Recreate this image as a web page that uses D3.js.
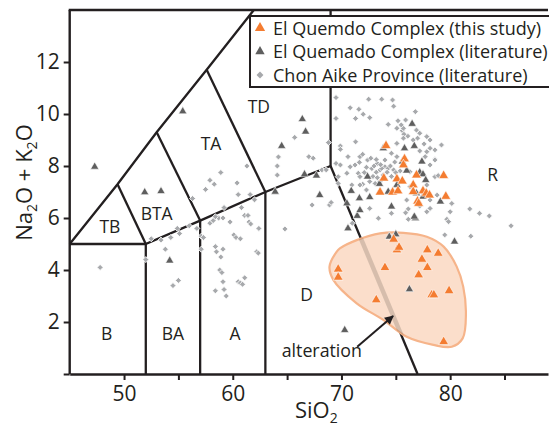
<!DOCTYPE html>
<html>
<head>
<meta charset="utf-8">
<script src="https://cdn.jsdelivr.net/npm/d3@7"></script>
<style>
  body { margin: 0; background: #fff; }
  svg text { font-family: "Open Sans", "Noto Sans", sans-serif; fill: #231f20; }
</style>
</head>
<body>
<svg id="chart" width="549" height="431"></svg>
<script>
// ---- Samples (SiO2 wt%, Na2O + K2O wt%) ----
const thisStudy = [
  [74.1,8.78],[75.8,8.27],[75.7,8.04],[73.9,7.53],[75.1,7.5],[75.6,7.42],[76.9,7.65],[76.6,7.27],[79.4,7.63],
  [73.55,6.99],[74.7,6.99],[75.2,7.04],[76.6,7.01],[77.5,7.04],[77.8,6.95],[78.1,6.88],[79.6,6.83],[77.0,6.65],[77.1,6.56],
  [74.8,5.18],[75.1,4.77],[75.3,4.87],[77.9,4.77],[78.9,4.64],[77.4,4.41],[77.9,4.09],[77.1,3.81],[74.0,4.09],
  [69.7,4.03],[69.7,3.72],[78.3,3.04],[78.5,3.04],[79.9,3.2],[73.2,2.85],[79.4,1.24]
];

const quemadoLiterature = [
  [47.3,7.97],[55.4,10.1],[51.9,6.99],[53.4,7.03],[54.2,4.36],[63.9,7.01],[64.5,8.77],[66.4,9.8],[66.7,9.32],
  [66.6,7.68],[67.7,7.63],[68.0,6.88],[70.9,7.04],[71.65,6.76],[72.6,6.8],[72.4,7.59],[73.5,7.31],[73.85,8.68],
  [74.3,7.01],[74.6,6.44],[71.45,6.08],[71.7,6.3],[70.5,6.56],[70.6,5.6],[74.4,5.28],[75.0,5.37],[76.8,5.99],
  [80.4,5.09],[79.1,6.63],[76.25,3.26],[70.3,1.69],[76.5,9.62],[75.8,8.68],[76.7,8.77],[75.6,8.17],[77.4,8.17],
  [76.0,7.82],[77.2,7.76],[77.5,7.68],[77.75,7.46],[75.1,7.27],[76.9,6.95],[77.5,6.82],[76.7,6.05]
];

const chonAike = [
  [47.8,4.1],[52.0,4.4],[52.5,5.2],[53.4,5.15],[53.8,4.8],[54.3,5.25],[54.9,5.6],[55.1,5.4],[56.0,5.7],[56.7,5.6],
  [57.1,5.3],[57.1,4.8],[54.5,3.4],[55.0,3.6],[57.9,5.8],[58.2,5.9],[58.7,6.0],[59.1,6.0],[59.75,5.85],[58.4,4.9],
  [58.5,4.7],[59.1,4.8],[58.9,4.5],[60.1,5.35],[60.3,5.25],[60.7,5.2],[58.8,4.0],[59.0,3.9],[59.1,3.55],[58.4,3.2],
  [59.2,3.25],[59.4,3.0],[60.5,3.55],[60.7,3.5],[61.1,3.7],[60.9,3.45],[61.1,6.1],[61.4,6.1],[61.5,5.85],[61.65,5.77],
  [62.4,5.6],[62.2,4.7],[62.35,4.65],[58.9,7.75],[57.9,7.45],[58.3,7.3],[57.5,7.1],[60.4,7.35],[60.5,6.9],[61.6,6.9],
  [61.3,8.0],[64.1,8.0],[64.1,7.65],[56.3,6.75],[59.2,6.4],[60.8,6.4],[62.0,6.7],[58.4,6.05],[57.3,5.25],[64.2,8.35],
  [64.8,5.58],[65.7,9.1],[67.0,8.36],[67.4,8.3],[68.8,8.9],[68.2,7.85],[67.3,6.5],[68.9,6.5],[69.05,6.6],
  [69.5,10.63],[72.5,10.57],[73.7,10.57],[70.8,10.24],[71.6,10.18],[72.0,9.99],[71.3,9.83],[72.6,9.86],[69.5,9.83],
  [69.9,8.77],[69.9,8.64],[71.3,8.93],[70.6,8.36],[71.7,8.36],[71.95,8.45],[69.5,8.1],[69.9,8.04],[70.8,7.97],
  [71.25,8.04],[71.65,8.14],[72.4,8.23],[70.5,7.72],[71.55,7.72],[71.7,7.59],[73.2,7.76],[72.6,7.4],[73.1,7.33],
  [73.55,7.85],[74.0,7.97],[73.85,7.65],[74.3,7.91],[71.95,7.3],[69.7,7.59],[69.7,7.33],[70.95,7.27],
  [74.8,10.3],[75.9,9.77],[76.8,10.09],[74.3,9.6],[75.2,9.74],[75.1,9.45],[75.6,9.36],[75.7,9.45],[76.9,9.38],
  [77.2,9.26],[76.1,9.15],[77.85,9.13],[78.15,9.0],[77.6,8.85],[78.6,8.27],[75.1,8.87],[74.7,10.54],[75.5,9.58],
  [75.75,9.22],[77.0,9.07],[76.6,9.0],[75.7,9.07],[79.2,8.81],[78.6,8.62],[78.15,8.68],[77.85,8.55],[77.2,8.58],
  [74.6,8.49],[75.1,8.36],[74.0,8.23],[73.7,7.91],[74.2,7.76],[77.7,8.36],[78.6,8.23],[78.15,8.04],[76.3,7.78],
  [75.4,7.81],[78.6,7.59],[78.9,7.63],[73.55,7.4],[77.85,7.27],[76.3,7.2],[76.0,6.69],[78.15,6.37],[77.85,6.24],
  [80.0,6.24],[81.8,6.35],[82.7,6.18],[76.15,6.35],[83.6,6.08],[85.6,5.7],[81.9,5.3],[79.5,5.35],[79.7,5.95],
  [79.85,5.86],[80.15,6.56],[76.15,5.95],[73.4,5.99],[71.0,5.8],[77.2,6.46],[68.6,7.85],[71.7,7.27],[72.3,7.08],
  [78.15,6.69],[78.8,6.88],[74.6,6.18],[75.9,6.2],[72.6,6.37],[72.8,7.9],[73.0,8.0],[73.3,8.1],[73.6,8.05],
  [74.5,8.0],[74.8,7.85],[72.9,7.6],[73.3,7.55],[74.6,7.6],[75.0,7.75],[72.3,7.95],[72.1,7.75],[74.9,8.15],
  [73.2,8.25],[72.7,8.3]
];

// ---- TAS classification grid ----
const fieldBoundaries = [
  [[45,5],[49.4,7.3],[53,9.3],[57.6,11.7],[61.94,14]],
  [[45,5],[52,5]],
  [[52,0],[52,5],[57,5.9],[63,7],[69,8]],
  [[57,0],[57,5.9]],
  [[63,0],[63,7]],
  [[49.4,7.3],[52,5]],
  [[53,9.3],[57,5.9]],
  [[57.6,11.7],[63,7]],
  [[69,8],[69,14]],
  [[69,8],[77,0]]
];
const drBoundary = [[69,8],[77,0]];

const fieldNames  = ["B","BA","A","TB","BTA","TA","TD","D","R"];
const fieldAnchor = [[48.4,1.56],[54.5,1.56],[60.2,1.56],[48.7,5.67],[53.0,6.18],[58.0,8.85],[62.4,10.3],[66.8,3.04],[83.9,7.65]];

// Outline of the altered samples field
const alterationField = [
  [69.55,4.70],[68.9,4.13],[69.25,3.62],[71.4,2.72],[73.85,2.08],[76.0,1.43],[78.45,1.12],[80.15,1.05],
  [81.15,1.37],[81.45,2.33],[81.2,3.36],[80.6,4.13],[79.4,4.9],[77.85,5.28],[75.7,5.43],[73.55,5.41],
  [71.4,5.15],[69.85,4.83]
];
const arrowFrom = [71.45,1.05], arrowTo = [74.75,2.23];

const xTicks = [50,55,60,65,70,75,80,85];
const yTicks = [0,2,4,6,8,10,12];

const legendLabels = [
  "El Quemdo Complex (this study)",
  "El Quemado Complex (literature)",
  "Chon Aike Province (literature)"
];

// ---- Drawing ----
const ink = "#231f20";
const orange = "#f47c30", darkGrey = "#5e5e5e", lightGrey = "#a7a9ac";

const svg = d3.select("#chart");
const x = d3.scaleLinear().domain([45, 89]).range([69.7, 548]);
const y = d3.scaleLinear().domain([0, 14]).range([374, 10]);
const line = d3.line().x(d => x(d[0])).y(d => y(d[1]));

// classification lines
svg.append("g").selectAll("path").data(fieldBoundaries).join("path")
  .attr("d", line).attr("fill", "none").attr("stroke", ink).attr("stroke-width", 2.3)
  .attr("stroke-linejoin", "miter");

// top frame
svg.append("line").attr("x1", x(45) - 1).attr("x2", x(89)).attr("y1", y(14)).attr("y2", y(14))
  .attr("stroke", ink).attr("stroke-width", 2.3);

// alteration field
const blob = d3.line().x(d => x(d[0])).y(d => y(d[1])).curve(d3.curveCatmullRomClosed.alpha(0.5));
svg.append("clipPath").attr("id", "altClip").append("path").attr("d", blob(alterationField));
svg.append("path").attr("d", blob(alterationField))
  .attr("fill", "#fbdecb").attr("stroke", "#f6b48a").attr("stroke-width", 2.2);
svg.append("path").attr("d", line(drBoundary)).attr("clip-path", "url(#altClip)")
  .attr("fill", "none").attr("stroke", "rgba(110,95,85,0.26)").attr("stroke-width", 4.5);

// axes
const xAxis = d3.axisBottom(x).tickValues(xTicks).tickSize(6).tickSizeOuter(0).tickPadding(6)
  .tickFormat(d => d % 10 === 0 ? d : "");
const gx = svg.append("g").attr("transform", `translate(0,${y(0)})`).call(xAxis);
const yAxis = d3.axisLeft(y).tickValues(yTicks).tickSize(6).tickSizeOuter(0).tickPadding(4)
  .tickFormat(d => d === 0 ? "" : d);
const gy = svg.append("g").attr("transform", `translate(${x(45)},0)`).call(yAxis);
gy.select(".domain").attr("d", `M0,${y(0)}V${y(14)}`);
[gx, gy].forEach(g => {
  g.attr("font-family", null).attr("font-size", null);
  g.select(".domain").attr("stroke", ink).attr("stroke-width", 2.4);
  g.selectAll(".tick line").attr("stroke", ink).attr("stroke-width", 2);
  g.selectAll(".tick text").style("font-size", "21px").attr("fill", ink);
});

// field names
svg.append("g").selectAll("text").data(fieldNames).join("text")
  .attr("x", (d, i) => x(fieldAnchor[i][0])).attr("y", (d, i) => y(fieldAnchor[i][1]))
  .attr("dy", "0.36em").attr("text-anchor", "middle").style("font-size", "17.5px").text(d => d);

// samples
const diamond = d3.symbol(d3.symbolSquare, 18);
svg.append("g").selectAll("path").data(chonAike).join("path")
  .attr("d", diamond).attr("transform", d => `translate(${x(d[0])},${y(d[1])}) rotate(45)`)
  .attr("fill", lightGrey).attr("stroke", "#fff").attr("stroke-width", 0.8);

const triSmall = d3.symbol(d3.symbolTriangle, 30);
svg.append("g").selectAll("path").data(quemadoLiterature).join("path")
  .attr("d", triSmall).attr("transform", d => `translate(${x(d[0])},${y(d[1])})`)
  .attr("fill", darkGrey).attr("stroke", "#fff").attr("stroke-width", 0.6);

const triLarge = d3.symbol(d3.symbolTriangle, 42);
svg.append("g").selectAll("path").data(thisStudy).join("path")
  .attr("d", triLarge).attr("transform", d => `translate(${x(d[0])},${y(d[1])})`)
  .attr("fill", orange).attr("stroke", "#fff").attr("stroke-width", 0.6);

// alteration arrow
const defs = svg.append("defs");
defs.append("marker").attr("id", "head").attr("viewBox", "0 0 10 10").attr("refX", 9).attr("refY", 5)
  .attr("markerWidth", 10).attr("markerHeight", 9).attr("markerUnits", "userSpaceOnUse")
  .attr("orient", "auto")
  .append("path").attr("d", "M0,0L10,5L0,10Z").attr("fill", ink);
svg.append("line")
  .attr("x1", x(arrowFrom[0])).attr("y1", y(arrowFrom[1]))
  .attr("x2", x(arrowTo[0])).attr("y2", y(arrowTo[1]))
  .attr("stroke", ink).attr("stroke-width", 2).attr("marker-end", "url(#head)");
svg.append("text").attr("x", x(64.5)).attr("y", y(0.67)).style("font-size", "17.8px").text("alteration");

// axis titles
const yt = svg.append("text").attr("transform", `translate(32,182.5) rotate(-90)`)
  .attr("text-anchor", "middle").style("font-size", "22px");
yt.append("tspan").text("Na");
yt.append("tspan").attr("dy", 5).style("font-size", "14px").text("2");
yt.append("tspan").attr("dy", -5).text("O + K");
yt.append("tspan").attr("dy", 5).style("font-size", "14px").text("2");
yt.append("tspan").attr("dy", -5).text("O");

const xt = svg.append("text").attr("x", 295).attr("y", 418).style("font-size", "22px");
xt.append("tspan").text("SiO");
xt.append("tspan").attr("dy", 5).style("font-size", "14px").text("2");

// legend
const lg = svg.append("g");
lg.append("rect").attr("x", 250).attr("y", 16).attr("width", 310).attr("height", 71)
  .attr("fill", "#fff").attr("stroke", ink).attr("stroke-width", 2);
const legendSymbols = [
  { path: d3.symbol(d3.symbolTriangle, 46)(), fill: orange, rot: 0 },
  { path: d3.symbol(d3.symbolTriangle, 38)(), fill: darkGrey, rot: 0 },
  { path: d3.symbol(d3.symbolSquare, 24)(), fill: lightGrey, rot: 45 }
];
legendLabels.forEach((label, i) => {
  const cy = 28 + i * 23.5;
  lg.append("path").attr("d", legendSymbols[i].path)
    .attr("transform", `translate(260,${cy}) rotate(${legendSymbols[i].rot})`)
    .attr("fill", legendSymbols[i].fill);
  lg.append("text").attr("x", 273).attr("y", cy + 6.5).style("font-size", "18px").text(label);
});
</script>
</body>
</html>
